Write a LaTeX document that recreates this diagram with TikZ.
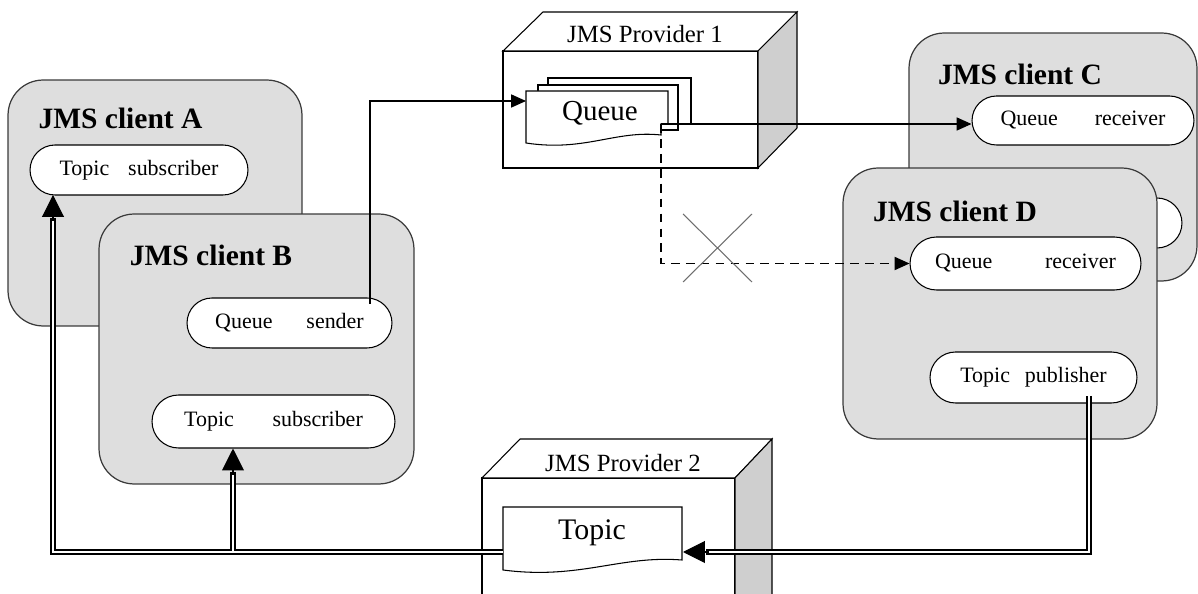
\documentclass[tikz,border=0pt]{standalone}
\usepackage{fontspec}
\setmainfont{Liberation Serif}
\usetikzlibrary{shapes.misc,arrows.meta,calc}
\definecolor{clientfill}{HTML}{DEDEDE}
\definecolor{clientdraw}{HTML}{3A3A3A}
\definecolor{sidefill}{HTML}{CFCFCF}
\definecolor{crossgray}{HTML}{6E6E6E}
\begin{document}
\begin{tikzpicture}[x=0.02cm,y=-0.02cm,
 client/.style={draw=clientdraw, fill=clientfill, line width=0.7pt, rounded corners=20pt, inner sep=0pt},
 ctitle/.style={font=\fontsize{16.8}{18}\selectfont\bfseries, inner sep=0pt},
 pill/.style={draw, fill=white, rounded rectangle, line width=0.6pt, inner sep=0pt, font=\fontsize{12.5}{14}\selectfont},
 ptitle/.style={font=\fontsize{14.1}{16}\selectfont, inner sep=0pt},
 face/.style={draw, fill=white, line width=0.6pt},
 sideface/.style={draw, fill=sidefill, line width=0.6pt},
 docshape/.style={draw, fill=white, line width=0.6pt},
 flow/.style={line width=0.65pt, -{Triangle[length=8.5pt,width=7.5pt]}},
 dflow/.style={flow, line width=0.8pt, dash pattern=on 5pt off 3.5pt},
 dbl/.style={double, double distance=1.3pt, line width=1.05pt},
 bigtip/.style={line width=0.6pt, -{Triangle[length=12.5pt,width=12.5pt]}},
 crossline/.style={draw=crossgray, line width=0.6pt}
]
\useasboundingbox (0,0) rectangle (1198,594);
\clip (0,0) rectangle (1198,594);

% Client A and B
\node[client, minimum width=5.88cm, minimum height=4.92cm] (cA) at (155,203) {};
\node[ctitle] (tA) at (120.5,118) {JMS client A};
\node[pill, minimum width=4.36cm, minimum height=1.0cm] (pA) at (139,170) {Topic\hspace{10.8pt}subscriber};
\node[client, minimum width=6.3cm, minimum height=5.4cm] (cB) at (256.5,349) {};
\node[ctitle] (tB) at (211,255) {JMS client B};
\node[pill, minimum width=4.1cm, minimum height=1.0cm] (pBs) at (289.5,323) {Queue\hspace{19.3pt}sender};
\node[pill, minimum width=4.86cm, minimum height=1.06cm] (pBt) at (273.5,421.5) {Topic\hspace{22pt}subscriber};

% Client C and D
\node[client, minimum width=5.76cm, minimum height=4.96cm] (cC) at (1053,157) {};
\node[ctitle] (tC) at (1020,74) {JMS client C};
\node[pill, minimum width=4.44cm, minimum height=0.98cm] (pC) at (1083,120.5) {Queue\hspace{21pt}receiver};
\node[pill, minimum width=4.44cm, minimum height=1.0cm] (pCh) at (1071,223) {};
\node[client, minimum width=6.28cm, minimum height=5.42cm] (cD) at (1000,303.5) {};
\node[ctitle] (tD) at (955,211) {JMS client D};
\node[pill, minimum width=4.62cm, minimum height=1.06cm] (pD) at (1025.5,263.5) {Queue\hspace{30pt}receiver};
\node[pill, minimum width=4.14cm, minimum height=1.02cm] (pDp) at (1033.5,377.5) {Topic\hspace{8.5pt}publisher};

% Provider 1
\path[face] (503,51) -- (758,51) -- (758,168) -- (503,168) -- cycle;
\path[face] (503,51) -- (543,12) -- (797,12) -- (758,51) -- cycle;
\path[sideface] (758,51) -- (797,12) -- (797,128) -- (758,168) -- cycle;
\node[ptitle] (tP1) at (645,34) {JMS Provider 1};
\path[docshape] (548,78) -- (691,78) -- (691,124) -- (548,124) -- cycle;
\path[docshape] (538,85) -- (678,85) -- (678,130) -- (538,130) -- cycle;
\path[docshape] (526,91) -- (668,91) -- (668,124) -- (661,124) -- (661,135) .. controls (615,130) and (585,152) .. (526,143) -- cycle;
\node[font=\fontsize{16.5}{18}\selectfont, inner sep=0pt] (lq) at (600,113) {Queue};

% Provider 2
\path[face] (482,478) -- (735,478) -- (735,600) -- (482,600) -- cycle;
\path[face] (482,478) -- (520,439) -- (772,439) -- (735,478) -- cycle;
\path[sideface] (735,478) -- (772,439) -- (772,600) -- (735,600) -- cycle;
\node[ptitle] (tP2) at (623,463) {JMS Provider 2};
\path[docshape] (503,507) -- (682,507) -- (682,560) .. controls (620,555) and (580,580) .. (503,570) -- cycle;
\node[font=\fontsize{17}{19}\selectfont, inner sep=0pt] (lt) at (592,533) {Topic};

% Connectors
\coordinate (qin) at (526,101);
\coordinate (qout) at (661,124);
\coordinate (sout) at (370,304);
\draw[flow] (sout) |- (qin);
\draw[flow] (qout) -- (qout -| pC.west);
\draw[dflow] (qout) |- (pD.west);
\path[crossline] (683,214) -- (752,282) (752,214) -- (683,282);

\coordinate (pubout) at (1089,396);
\coordinate (tin) at (683,552);
\coordinate (tout) at (503,552);
\coordinate (aIn) at (53,195);
\coordinate (bj) at (233,552);
\coordinate (bIn) at (bj |- pBt.south);

\draw[dbl] (pubout) |- ($(tin)+(23,0)$);
\draw[bigtip] ($(tin)+(26,0)$) -- (tin);
\draw[dbl] (tout) -| ($(aIn)+(0,23)$);
\draw[bigtip] ($(aIn)+(0,26)$) -- (aIn);
\draw[dbl] ($(bj)+(0,-1)$) -- ($(bIn)+(0,23)$);
\draw[bigtip] ($(bIn)+(0,26)$) -- (bIn);
\end{tikzpicture}
\end{document}
